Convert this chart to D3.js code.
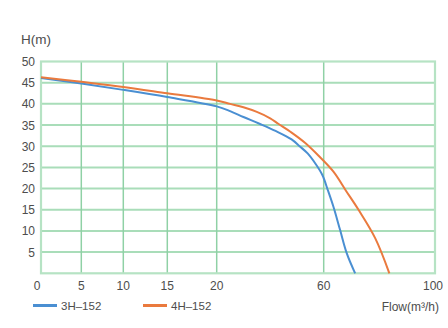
<!DOCTYPE html>
<html><head><meta charset="utf-8">
<script src="https://cdn.jsdelivr.net/npm/d3@7"></script>
<style>body{margin:0;background:#fff}svg{display:block}text{font-family:"Liberation Sans",Arial,sans-serif;fill:#4d4d4d}</style>
</head><body>
<svg id="c" width="448" height="328"></svg>
<script>
const xTicks = [0, 5, 10, 15, 20, 60, 100];
const yTicks = [5, 10, 15, 20, 25, 30, 35, 40, 45, 50];
const seriesNames = ["3H–152", "4H–152"];
const colors = ["#4a8fd2", "#ea7a3e"];
const flow3H = [0, 5, 10, 15, 20, 25, 30, 36, 42, 48, 51, 54, 57, 59.5, 61.5, 63.5, 65.9, 68.3, 71.3];
const head3H = [46.1, 44.8, 43.3, 41.6, 39.4, 38.3, 36.9, 35.3, 33.6, 31.6, 30, 28.3, 25.8, 23.2, 19.6, 15.7, 10.2, 4.7, 0];
const flow4H = [0, 5, 10, 15, 20, 25, 30, 35, 40, 43, 48, 53, 58, 63.5, 68, 72.5, 78.5, 83.6];
const head4H = [46.3, 45.2, 44.0, 42.5, 40.8, 40.0, 39.2, 38.1, 36.6, 35.3, 33.2, 30.8, 27.8, 24, 19.5, 15, 8.3, 0];

const svg = d3.select("#c");
const x = d3.scaleLinear().domain(xTicks).range([41, 81.3, 123.3, 167.3, 216.7, 323.7, 435]);
const y = d3.scaleLinear().domain([0, 50]).range([273.3, 61.5]);

const g = svg.append("g");
g.selectAll(".h").data(yTicks.slice(0, -1)).join("line")
  .attr("x1", x(0)).attr("x2", x(100)).attr("y1", d => y(d)).attr("y2", d => y(d))
  .attr("stroke", "#a9ddb9").attr("stroke-width", 2);
g.selectAll(".v").data(xTicks.slice(1, -1)).join("line")
  .attr("x1", d => x(d)).attr("x2", d => x(d)).attr("y1", y(50)).attr("y2", y(0))
  .attr("stroke", "#8fd1a5").attr("stroke-width", 1.5);
g.append("rect").attr("x", x(0)).attr("y", y(50)).attr("width", x(100) - x(0)).attr("height", y(0) - y(50))
  .attr("fill", "none").attr("stroke", "#b6e3c4").attr("stroke-width", 2.2);

svg.selectAll(".yl").data(yTicks).join("text")
  .attr("x", 35).attr("y", d => y(d) + 4.5).attr("text-anchor", "end").attr("font-size", 12).text(d => d);
svg.selectAll(".xl").data(xTicks).join("text")
  .attr("x", d => x(d) + (d === 0 ? -4 : d === 100 ? -2 : 0)).attr("y", 290).attr("text-anchor", "middle").attr("font-size", 12).text(d => d);

svg.append("text").attr("x", 21).attr("y", 44).attr("font-size", 13.5).text("H(m)");
svg.append("text").attr("x", 439).attr("y", 311).attr("text-anchor", "end").attr("font-size", 12).text("Flow(m³/h)");

const line = d3.line().x(d => x(d[0])).y(d => y(d[1])).curve(d3.curveCatmullRom.alpha(0.5));
const data = [d3.zip(flow3H, head3H), d3.zip(flow4H, head4H)];
svg.selectAll(".s").data(data).join("path")
  .attr("d", line).attr("fill", "none").attr("stroke", (d, i) => colors[i]).attr("stroke-width", 2);

const lx = [33, 143];
seriesNames.forEach((n, i) => {
  svg.append("line").attr("x1", lx[i]).attr("x2", lx[i] + 24).attr("y1", 305.5).attr("y2", 305.5)
    .attr("stroke", colors[i]).attr("stroke-width", 3);
  svg.append("text").attr("x", lx[i] + 28).attr("y", 310).attr("font-size", 11.5).text(n);
});
</script>
</body></html>
